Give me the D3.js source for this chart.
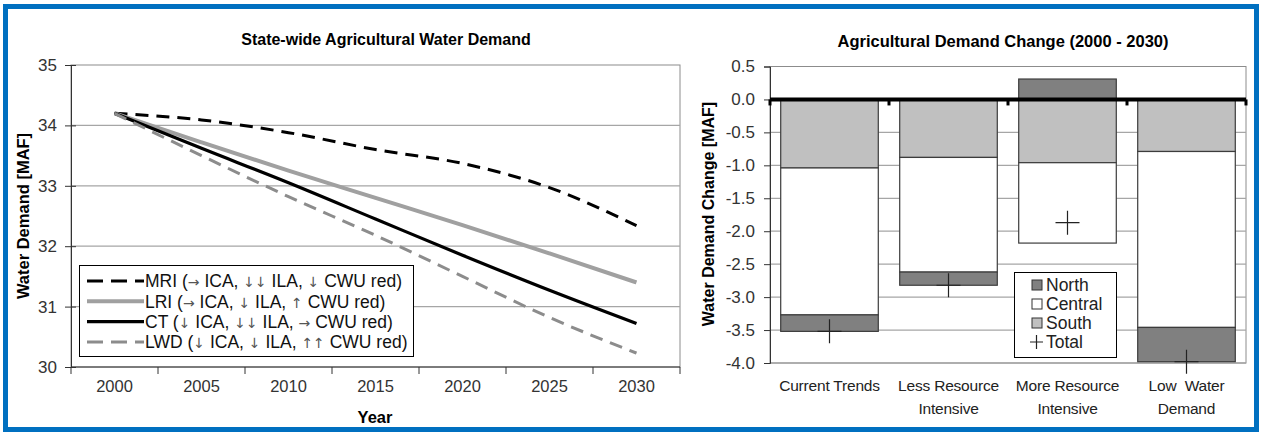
<!DOCTYPE html>
<html>
<head>
<meta charset="utf-8">
<script src="https://cdn.jsdelivr.net/npm/d3@7"></script>
<style>
  body { margin: 0; background: #fff; }
  svg { display: block; font-family: "Liberation Sans", Arial, sans-serif; }
</style>
</head>
<body>
<svg id="chart" width="1263" height="435"></svg>
<script>
"use strict";
// ---- data: left chart (state-wide demand, MAF)
const years = ["2000", "2005", "2010", "2015", "2020", "2025", "2030"];
const mriValues = [34.2, 34.09, 33.88, 33.6, 33.37, 32.97, 32.34];
const lriValues = [34.2, 33.72, 33.25, 32.8, 32.35, 31.88, 31.4];
const ctValues = [34.2, 33.62, 33.05, 32.45, 31.85, 31.27, 30.72];
const lwdValues = [34.2, 33.5, 32.82, 32.18, 31.5, 30.82, 30.23];
const seriesLabels = [
  "MRI (\u2192 ICA, \u2193\u2193 ILA, \u2193 CWU red)",
  "LRI (\u2192 ICA, \u2193 ILA, \u2191 CWU red)",
  "CT (\u2193 ICA, \u2193\u2193 ILA, \u2192 CWU red)",
  "LWD (\u2193 ICA, \u2193 ILA, \u2191\u2191 CWU red)",
];
const demandTicks = [30, 31, 32, 33, 34, 35];

// ---- data: right chart (change 2000-2030, MAF)
const scenarios = [
  ["Current Trends"],
  ["Less Resource", "Intensive"],
  ["More Resource", "Intensive"],
  ["Low  Water", "Demand"],
];
const regions = ["North", "Central", "South"];
const southChange = [-1.04, -0.88, -0.96, -0.79];
const centralChange = [-2.23, -1.74, -1.22, -2.67];
const northChange = [-0.25, -0.2, 0.31, -0.52];
const totalChange = [-3.52, -2.82, -1.87, -3.98];
const changeTicks = [0.5, 0, -0.5, -1, -1.5, -2, -2.5, -3, -3.5, -4];

const svg = d3.select("#chart");

// blue frame
svg.append("rect")
  .attr("x", 5.5).attr("y", 6.5)
  .attr("width", 1251).attr("height", 423)
  .attr("fill", "none")
  .attr("stroke", "#0070c0")
  .attr("stroke-width", 5);

renderLineChart();
renderBarChart();

function renderLineChart() {
  const x = d3.scaleBand().domain(years).range([71, 680]);
  const y = d3.scaleLinear().domain([30, 35]).range([367, 65]);
  const cx = (d) => x(d) + x.bandwidth() / 2;
  const g = svg.append("g");

  g.append("text")
    .attr("x", 386).attr("y", 45)
    .attr("text-anchor", "middle")
    .attr("font-size", 16).attr("font-weight", "bold")
    .text("State-wide Agricultural Water Demand");

  // plot area + grid
  g.append("rect")
    .attr("x", 71).attr("y", 65).attr("width", 609).attr("height", 302)
    .attr("fill", "#fff").attr("stroke", "#8c8c8c");
  g.selectAll(".grid")
    .data(demandTicks.slice(1, -1))
    .join("line")
    .attr("x1", 71).attr("x2", 680)
    .attr("y1", (d) => y(d)).attr("y2", (d) => y(d))
    .attr("stroke", "#a6a6a6").attr("stroke-width", 1.3);

  // y axis
  const yAxis = g.append("g")
    .attr("transform", "translate(71,0)")
    .call(d3.axisLeft(y).tickValues(demandTicks).tickFormat(d3.format("d")).tickSize(6).tickPadding(8));
  yAxis.select(".domain").attr("stroke", "#333");
  yAxis.selectAll(".tick line").attr("stroke", "#333").attr("x2", -6).attr("x1", 5);
  yAxis.selectAll(".tick text").attr("font-size", 17).attr("fill", "#333")
    .attr("font-family", "Liberation Sans, Arial, sans-serif");

  // x axis (ticks between categories)
  g.append("line").attr("x1", 71).attr("x2", 680).attr("y1", 367).attr("y2", 367)
    .attr("stroke", "#333");
  g.selectAll(".xtick")
    .data(years.concat(["end"]))
    .join("line")
    .attr("x1", (d, i) => 71 + i * x.step()).attr("x2", (d, i) => 71 + i * x.step())
    .attr("y1", 367).attr("y2", 374)
    .attr("stroke", "#333");
  g.selectAll(".xlabel")
    .data(years)
    .join("text")
    .attr("x", cx).attr("y", 392)
    .attr("text-anchor", "middle")
    .attr("font-size", 16.5).attr("fill", "#333")
    .text((d) => d);

  g.append("text")
    .attr("x", 375).attr("y", 423)
    .attr("text-anchor", "middle")
    .attr("font-size", 16.5).attr("font-weight", "bold")
    .text("Year");
  g.append("text")
    .attr("transform", "translate(29,216) rotate(-90)")
    .attr("text-anchor", "middle")
    .attr("font-size", 16.5).attr("font-weight", "bold")
    .text("Water Demand [MAF]");

  const styles = [
    { values: mriValues, color: "#000", width: 3, dash: "13,8" },
    { values: lriValues, color: "#a0a0a0", width: 4, dash: null },
    { values: ctValues, color: "#000", width: 3.2, dash: null },
    { values: lwdValues, color: "#8c8c8c", width: 3, dash: "13,8" },
  ];
  const line = d3.line()
    .x((d, i) => cx(years[i]))
    .y((d) => y(d))
    .curve(d3.curveMonotoneX);
  g.selectAll(".series")
    .data(styles)
    .join("path")
    .attr("d", (d) => line(d.values))
    .attr("fill", "none")
    .attr("stroke", (d) => d.color)
    .attr("stroke-width", (d) => d.width)
    .attr("stroke-dasharray", (d) => d.dash);

  // legend
  const lg = g.append("g");
  lg.append("rect")
    .attr("x", 79.5).attr("y", 265.5).attr("width", 334).attr("height", 91)
    .attr("fill", "#fff").attr("stroke", "#000");
  const items = lg.selectAll(".item")
    .data(styles)
    .join("g")
    .attr("transform", (d, i) => `translate(0,${281 + i * 20.3})`);
  items.append("line")
    .attr("x1", 87).attr("x2", 144)
    .attr("stroke", (d) => d.color)
    .attr("stroke-width", (d) => d.width)
    .attr("stroke-dasharray", (d) => (d.dash ? "16,8" : null));
  // split labels so the arrows can use a font that has them
  items.append("text")
    .attr("x", 145).attr("dy", "0.36em")
    .attr("font-size", 17.5).attr("fill", "#111")
    .selectAll("tspan")
    .data((d, i) => seriesLabels[i].split(/([\u2190-\u2193]+)/).filter((s) => s))
    .join("tspan")
    .attr("font-family", (s) => (/[\u2190-\u2193]/.test(s) ? "DejaVu Sans" : null))
    .attr("font-size", (s) => (/[\u2190-\u2193]/.test(s) ? 14 : null))
    .attr("fill", (s) => (/[\u2190-\u2193]/.test(s) ? "#555" : null))
    .text((s) => s);
}

function renderBarChart() {
  const x = d3.scaleBand()
    .domain(d3.range(scenarios.length))
    .range([770, 1246])
    .paddingInner(0.18)
    .paddingOuter(0.09);
  const y = d3.scaleLinear().domain([-4, 0.5]).range([363, 66.5]);
  const g = svg.append("g");
  const fmt = d3.formatLocale({ decimal: ".", thousands: ",", grouping: [3], currency: ["", ""], minus: "-" }).format(".1f");

  g.append("text")
    .attr("x", 1003).attr("y", 47)
    .attr("text-anchor", "middle")
    .attr("font-size", 16.5).attr("font-weight", "bold")
    .text("Agricultural Demand Change (2000 - 2030)");

  g.append("rect")
    .attr("x", 770).attr("y", 66.5).attr("width", 476).attr("height", 296.5)
    .attr("fill", "#fff").attr("stroke", "#8c8c8c");
  g.selectAll(".grid")
    .data(changeTicks.slice(1))
    .join("line")
    .attr("x1", 770).attr("x2", 1246)
    .attr("y1", (d) => y(d)).attr("y2", (d) => y(d))
    .attr("stroke", "#a6a6a6").attr("stroke-width", 1.3);

  const yAxis = g.append("g")
    .attr("transform", "translate(770,0)")
    .call(d3.axisLeft(y).tickValues(changeTicks).tickFormat(fmt).tickSize(6).tickPadding(9));
  yAxis.select(".domain").attr("stroke", "#333");
  yAxis.selectAll(".tick line").attr("stroke", "#333");
  yAxis.selectAll(".tick text").attr("font-size", 17).attr("fill", "#333")
    .attr("font-family", "Liberation Sans, Arial, sans-serif");

  g.append("text")
    .attr("transform", "translate(714,214) rotate(-90)")
    .attr("text-anchor", "middle")
    .attr("font-size", 16).attr("font-weight", "bold")
    .text("Water Demand Change [MAF]");

  // stacked bars
  const rows = scenarios.map((s, i) => ({
    South: southChange[i],
    Central: centralChange[i],
    North: northChange[i],
  }));
  const stack = d3.stack()
    .keys(["South", "Central", "North"])
    .offset(d3.stackOffsetDiverging);
  const fill = { North: "#808080", Central: "#ffffff", South: "#c0c0c0" };
  g.selectAll(".layer")
    .data(stack(rows))
    .join("g")
    .attr("fill", (d) => fill[d.key])
    .selectAll("rect")
    .data((d) => d)
    .join("rect")
    .attr("x", (d, i) => x(i))
    .attr("width", x.bandwidth())
    .attr("y", (d) => y(d[1]))
    .attr("height", (d) => y(d[0]) - y(d[1]))
    .attr("stroke", "#3c3c3c")
    .attr("stroke-width", 1.2);

  // totals
  g.selectAll(".total")
    .data(totalChange)
    .join("path")
    .attr("transform", (d, i) => `translate(${x(i) + x.bandwidth() / 2},${y(d)})`)
    .attr("d", "M-12,0H12M0,-12V12")
    .attr("stroke", "#222")
    .attr("stroke-width", 1.2);

  // zero line with boundary markers
  g.append("line")
    .attr("x1", 770).attr("x2", 1246)
    .attr("y1", y(0)).attr("y2", y(0))
    .attr("stroke", "#000").attr("stroke-width", 4);
  g.selectAll(".zmark")
    .data(d3.range(scenarios.length + 1))
    .join("rect")
    .attr("x", (i) => 770 + i * x.step() - 1.5)
    .attr("y", y(0))
    .attr("width", 3).attr("height", 6)
    .attr("fill", "#000");

  // category labels
  const cat = g.selectAll(".cat")
    .data(scenarios)
    .join("text")
    .attr("x", (d, i) => x(i) + x.bandwidth() / 2)
    .attr("y", 391)
    .attr("text-anchor", "middle")
    .attr("font-size", 15.5).attr("fill", "#222")
    .attr("letter-spacing", "-0.2");
  cat.selectAll("tspan")
    .data((d) => d)
    .join("tspan")
    .attr("x", function () { return this.parentNode.getAttribute("x"); })
    .attr("dy", (d, i) => (i ? 23 : 0))
    .style("white-space", "pre")
    .text((d) => d);

  // legend
  const lg = g.append("g");
  lg.append("rect")
    .attr("x", 1014.5).attr("y", 272.5).attr("width", 102).attr("height", 85)
    .attr("fill", "#fff").attr("stroke", "#000");
  const items = lg.selectAll(".item")
    .data(regions.concat(["Total"]))
    .join("g")
    .attr("transform", (d, i) => `translate(1031,${285 + i * 19})`);
  items.filter((d) => d !== "Total")
    .append("rect")
    .attr("x", 1).attr("y", -5).attr("width", 10).attr("height", 10)
    .attr("fill", (d) => fill[d])
    .attr("stroke", "#333");
  items.filter((d) => d === "Total")
    .append("path")
    .attr("d", "M-1,0H12M5.5,-7V7")
    .attr("stroke", "#222").attr("stroke-width", 1.2);
  items.append("text")
    .attr("x", 15).attr("dy", "0.36em")
    .attr("font-size", 17.5).attr("fill", "#222")
    .text((d) => d);
}
</script>
</body>
</html>
